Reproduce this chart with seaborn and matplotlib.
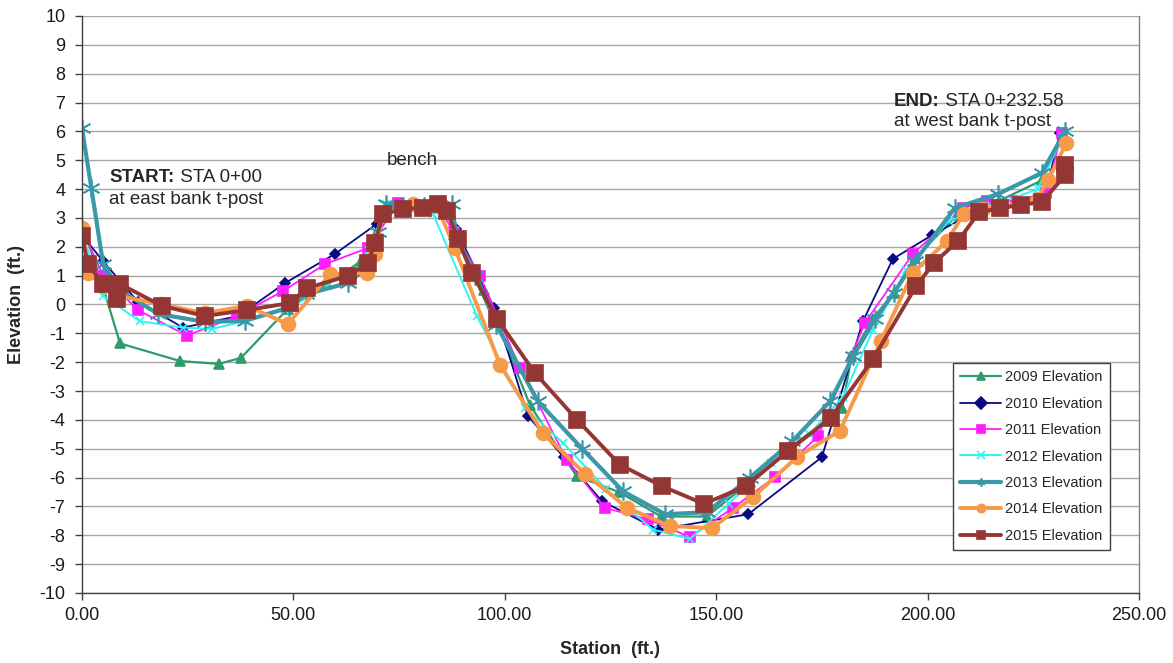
import matplotlib
matplotlib.use("Agg")
import matplotlib.pyplot as plt
import seaborn as sns
from matplotlib.ticker import FuncFormatter, MultipleLocator

# Cross-section survey: station (ft) vs. elevation (ft) per survey year
sta_2009 = [0, 5, 9, 23.2, 32.4, 37.6, 48.7, 58, 66, 72, 80, 86, 89, 95, 106, 117,
            127, 137, 147.8, 158, 168, 179.8, 182, 187, 192, 197, 207, 217, 227, 232]
elev_2009 = [2.8, 0.6, -1.35, -1.96, -2.06, -1.85, -0.15, 0.7, 1.5, 3.4, 3.4, 3.4, 2.4,
             0.5, -3.5, -5.95, -6.5, -7.35, -7.35, -6.15, -4.9, -3.6, -1.8, -0.5, 0.4,
             1.6, 3.1, 3.6, 4.3, 5.9]

sta_2010 = [0, 5, 13.2, 23.9, 37, 48, 59.8, 69.8, 74, 80, 86, 88.5, 97.5, 105.5, 114,
            123, 136.3, 157.6, 175, 184.7, 191.8, 201, 211, 221, 228, 231.3]
elev_2010 = [2.4, 1.5, 0.1, -0.8, -0.4, 0.74, 1.75, 2.8, 3.45, 3.4, 3.4, 2.6, -0.12,
             -3.87, -5.3, -6.82, -7.8, -7.27, -5.29, -0.58, 1.58, 2.4, 3.2, 3.4, 3.9, 5.95]

sta_2011 = [0, 5, 13.2, 24.8, 36.7, 47.6, 57.5, 67.7, 74.8, 84, 88, 94.1, 103.6, 114.7,
            123.7, 133.9, 143.8, 154, 163.9, 174.1, 185.2, 196.5, 208.4, 214, 221, 228,
            231.8]
elev_2011 = [2.6, 1.0, -0.19, -1.08, -0.4, 0.47, 1.4, 1.96, 3.52, 3.45, 2.5, 0.99, -2.2,
             -5.4, -7.05, -7.45, -8.06, -7.05, -5.98, -4.56, -0.63, 1.75, 3.35, 3.58, 3.6,
             3.87, 5.95]

sta_2012 = [0, 5, 13.7, 23.9, 30.7, 38.6, 48, 58, 63.9, 68, 72, 83, 93.4, 104.8, 113.8,
            124, 135, 143.8, 153, 163, 172, 180, 187, 195, 205, 215, 226, 232]
elev_2012 = [2.5, 0.3, -0.58, -0.8, -0.85, -0.57, -0.2, 0.63, 0.7, 1.9, 3.5, 3.15, -0.4,
             -3.6, -4.8, -6.4, -7.8, -8.13, -6.9, -5.5, -4.5, -3.2, -0.9, 1.2, 2.9, 3.4,
             4.0, 5.8]

sta_2013 = [0, 2.2, 5, 9, 18, 29, 38.5, 49, 53, 63, 67.5, 70, 72, 76, 81, 87.5, 88.5, 93,
            98, 107.8, 118.3, 128, 137.9, 147.8, 158, 168, 177, 182.4, 187.6, 192, 197,
            206.5, 216.7, 227, 232.5]
elev_2013 = [6.1, 4.05, 1.4, 0.5, -0.33, -0.6, -0.57, -0.1, 0.35, 0.75, 1.3, 2.5, 3.5,
             3.4, 3.4, 3.48, 2.4, 1.0, -0.7, -3.35, -5.0, -6.48, -7.27, -7.2, -6.0, -4.74,
             -3.35, -1.8, -0.5, 0.4, 1.5, 3.35, 3.83, 4.56, 6.0]

sta_2014 = [0, 1.5, 5, 8.5, 19, 29, 39, 48.7, 58.7, 67.4, 69.3, 71, 78.3, 84, 88.2, 98.9,
            109, 119, 129, 139, 149, 158.7, 169.1, 179.3, 189, 196.5, 204.6, 208.6, 213,
            217, 222, 226, 228.5, 232.8]
elev_2014 = [2.65, 1.1, 0.65, 0.3, 0.0, -0.3, -0.05, -0.68, 1.05, 1.1, 1.74, 3.1, 3.48,
             3.4, 1.95, -2.1, -4.46, -5.87, -7.05, -7.68, -7.75, -6.68, -5.29, -4.37,
             -1.25, 1.1, 2.2, 3.15, 3.3, 3.4, 3.5, 3.65, 4.3, 5.6]

sta_2015 = [0, 1.4, 5.0, 8.3, 9.0, 18.9, 29.1, 39.0, 49.2, 53.2, 62.9, 67.6, 69.3, 71.2,
            75.9, 80.7, 84.2, 86.3, 88.9, 92.2, 98.2, 107.1, 117.1, 127.2, 137.2, 147.1,
            157.0, 167.0, 177.1, 187.1, 197.3, 201.5, 207.2, 212.2, 217.1, 222.1, 227.1,
            232.6, 232.6]
elev_2015 = [2.37, 1.40, 0.71, 0.19, 0.71, -0.05, -0.40, -0.19, 0.05, 0.57, 0.99, 1.44,
             2.13, 3.13, 3.31, 3.35, 3.48, 3.24, 2.27, 1.09, -0.50, -2.37, -4.0, -5.55,
             -6.30, -6.91, -6.30, -5.08, -3.93, -1.89, 0.64, 1.44, 2.20, 3.2, 3.34, 3.45,
             3.55, 4.5, 4.85]

series_labels = ["2009 Elevation", "2010 Elevation", "2011 Elevation", "2012 Elevation",
                 "2013 Elevation", "2014 Elevation", "2015 Elevation"]
stations = [sta_2009, sta_2010, sta_2011, sta_2012, sta_2013, sta_2014, sta_2015]
elevations = [elev_2009, elev_2010, elev_2011, elev_2012, elev_2013, elev_2014, elev_2015]

styles = [
    dict(color="#2E9B6B", lw=1.6, marker="^", ms=7),
    dict(color="#0A0A80", lw=1.3, marker="D", ms=5),
    dict(color="#FF1DFF", lw=1.3, marker="s", ms=7),
    dict(color="#2EF4F4", lw=1.4, marker="x", ms=6),
    dict(color="#3A98A8", lw=3.0, marker=(6, 2, 0), ms=13),
    dict(color="#F79A48", lw=2.8, marker="o", ms=10),
    dict(color="#943633", lw=2.8, marker="s", ms=11),
]

sns.set_theme(style="white")
plt.rcParams["font.family"] = ["Liberation Sans", "DejaVu Sans"]

fig = plt.figure(figsize=(11.73, 6.63), dpi=100)
ax = fig.add_axes([0.0699, 0.1056, 0.9011, 0.8703])

for lab, xs, ys, st in zip(series_labels, stations, elevations, styles):
    sns.lineplot(x=xs, y=ys, ax=ax, sort=False, estimator=None, label=lab,
                 color=st["color"], linewidth=st["lw"], marker=st["marker"],
                 markersize=st["ms"], markeredgecolor=st["color"],
                 markerfacecolor=st["color"], markeredgewidth=1.2)

ax.set_xlim(0, 250)
ax.set_ylim(-10, 10)
ax.xaxis.set_major_locator(MultipleLocator(50))
ax.yaxis.set_major_locator(MultipleLocator(1))
ax.xaxis.set_major_formatter(FuncFormatter(lambda v, p: f"{v:.2f}"))
ax.yaxis.set_major_formatter(FuncFormatter(lambda v, p: f"{int(round(v))}"))
ax.yaxis.grid(True, color="#A6A6A6", linewidth=1.0)
ax.xaxis.grid(False)
ax.set_axisbelow(True)

for side in ("left", "bottom"):
    ax.spines[side].set_color("#404040")
    ax.spines[side].set_linewidth(1.0)
ax.spines["top"].set_visible(False)
ax.spines["right"].set_color("#808080")
ax.spines["right"].set_linewidth(1.0)

ax.tick_params(axis="both", direction="out", length=5, width=1, color="#404040",
               labelsize=13, labelcolor="#1A1A1A")
ax.tick_params(axis="y", left=True, pad=7)
ax.tick_params(axis="x", bottom=True, pad=5)

ax.set_xlabel("Station  (ft.)", fontsize=13, fontweight="bold", labelpad=12)
ax.set_ylabel("Elevation  (ft.)", fontsize=13, fontweight="bold", labelpad=10)

# Reference annotations
t1 = ax.text(6.5, 4.1, "START:", fontsize=13.5, fontweight="bold", va="bottom", ha="left")
ax.annotate(" STA 0+00", xy=(1, 0), xycoords=t1, fontsize=13.5, va="bottom", ha="left")
ax.text(6.5, 3.35, "at east bank t-post", fontsize=13.5, va="bottom", ha="left")

ax.text(78.2, 4.7, "bench", fontsize=13.5, va="bottom", ha="center")

t2 = ax.text(192, 6.75, "END:", fontsize=13.5, fontweight="bold", va="bottom", ha="left")
ax.annotate(" STA 0+232.58", xy=(1, 0), xycoords=t2, fontsize=13.5, va="bottom", ha="left")
ax.text(192, 6.05, "at west bank t-post", fontsize=13.5, va="bottom", ha="left")

leg = ax.legend(loc="lower right", bbox_to_anchor=(0.9726, 0.0745), fontsize=10.5,
                frameon=True, fancybox=False, edgecolor="#404040", framealpha=1,
                labelspacing=0.85, handlelength=2.8, handletextpad=0.3,
                borderpad=0.5, borderaxespad=0)
leg.get_frame().set_linewidth(1.0)
for h in leg.legend_handles:
    h.set_markersize(6)

fig.savefig("out.png", dpi=100)
